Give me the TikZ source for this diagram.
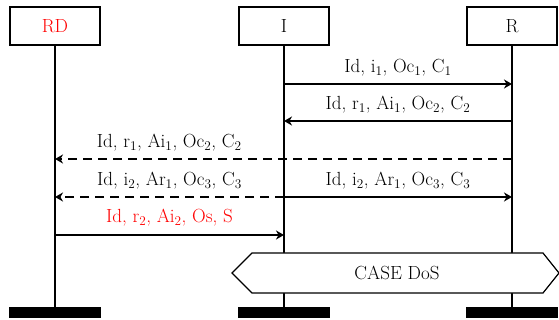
\documentclass[tikz,border=0pt]{standalone}
\usepackage{fontspec}
\usetikzlibrary{arrows.meta}
\definecolor{redtxt}{RGB}{255,0,0}
\newcommand{\sbs}[1]{\textsubscript{#1}}
\begin{document}
\begin{tikzpicture}[x=1pt,y=-1pt,
  every node/.style={font=\fontsize{19}{22}\selectfont},
  actor/.style={draw,line width=1.3pt,minimum width=90pt,minimum height=38pt,inner sep=0pt},
  bar/.style={fill=black,minimum width=92pt,minimum height=11pt,inner sep=0pt},
  life/.style={line width=2pt},
  msg/.style={line width=1.3pt,-{Stealth[length=8pt,width=9pt,inset=2.5pt]}},
  dmsg/.style={msg,dash pattern=on 9pt off 6pt},
  lab/.style={anchor=base,yshift=11pt,inner sep=0pt}]
\useasboundingbox (0,0) rectangle (559,320);
\node[actor] (RD) at (55,26) {\textcolor{redtxt}{RD}};
\node[actor] (I) at (284,26) {I};
\node[actor] (R) at (512,26) {R};
\node[bar] (RDb) at (55,312.5) {};
\node[bar] (Ib) at (284,312.5) {};
\node[bar] (Rb) at (512,312.5) {};
\draw[life] (RD.south) -- (RDb.north);
\draw[life] (I.south) -- (Ib.north);
\draw[life] (R.south) -- (Rb.north);
% message end points on lifelines
\coordinate (I1) at (284,84);  \coordinate (R1) at (512,84);
\coordinate (R2) at (512,121); \coordinate (I2) at (284,121);
\coordinate (R3) at (512,159); \coordinate (D3) at (55,159);
\coordinate (I4) at (284,197); \coordinate (D4) at (55,197); \coordinate (R4) at (512,197);
\coordinate (D5) at (55,235);  \coordinate (I5) at (284,235);
\draw[msg] (I1) -- node[lab] {Id, i\sbs{1}, Oc\sbs{1}, C\sbs{1}} (R1);
\draw[msg] (R2) -- node[lab] {Id, r\sbs{1}, Ai\sbs{1}, Oc\sbs{2}, C\sbs{2}} (I2);
\draw[dmsg] (R3) -- node[lab,pos=0.75] {Id, r\sbs{1}, Ai\sbs{1}, Oc\sbs{2}, C\sbs{2}} (D3);
\draw[dmsg] (I4) -- node[lab] {Id, i\sbs{2}, Ar\sbs{1}, Oc\sbs{3}, C\sbs{3}} (D4);
\draw[msg] (I4) -- node[lab] {Id, i\sbs{2}, Ar\sbs{1}, Oc\sbs{3}, C\sbs{3}} (R4);
\draw[msg] (D5) -- node[lab,text=redtxt,yshift=1pt] {Id, r\sbs{2}, Ai\sbs{2}, Os, S} (I5);
% CASE DoS hexagon
\draw[line width=1.2pt,fill=white] (232,273) -- (252,253) -- (543,253) -- (559,273) -- (543,293) -- (252,293) -- cycle;
\node (case) at (397,273) {CASE DoS};
\end{tikzpicture}
\end{document}
